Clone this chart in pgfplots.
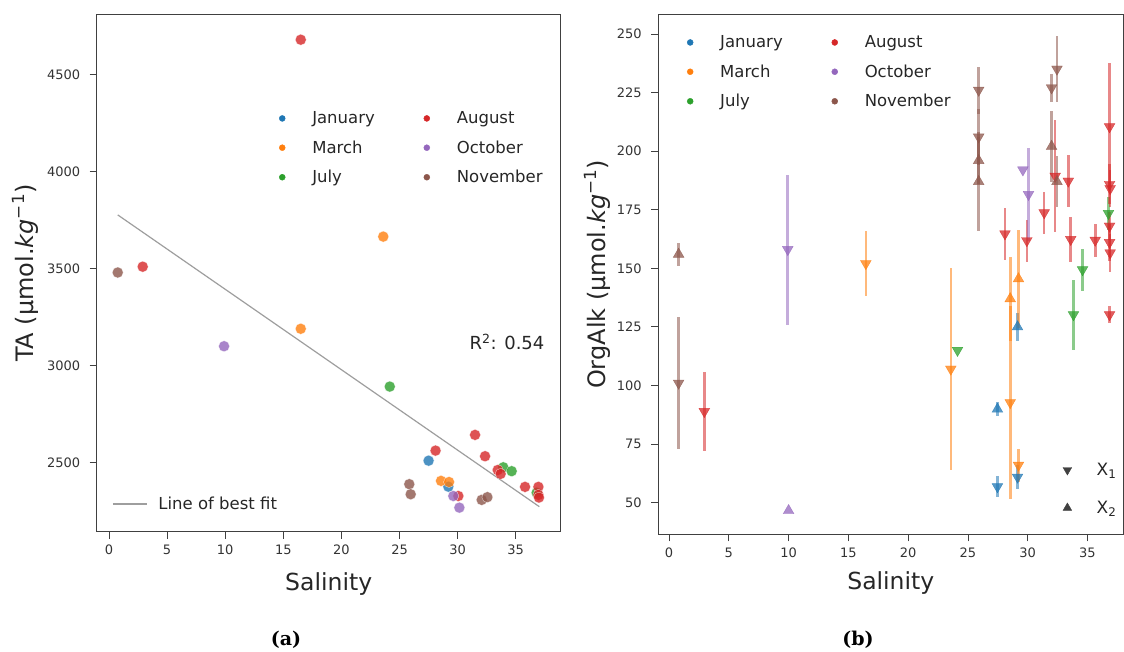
\documentclass[border=0pt]{standalone}
\usepackage{fontspec}
\setmainfont{DejaVu Sans}
\newfontfamily\capfont{DejaVu Serif}
\usepackage{pgfplots}
\pgfplotsset{compat=1.18}
\usepackage{pgfplotstable}

\definecolor{tabblue}{HTML}{1F77B4}
\definecolor{taborange}{HTML}{FF7F0E}
\definecolor{tabgreen}{HTML}{2CA02C}
\definecolor{tabred}{HTML}{D62728}
\definecolor{tabpurple}{HTML}{9467BD}
\definecolor{tabbrown}{HTML}{8C564B}

% ---------- Panel (a): TA vs salinity ----------
\pgfplotstableread{
x y
27.5 2510
29.2 2376
}\TAjan
\pgfplotstableread{
x y
16.5 3190
23.6 3665
28.57 2406
29.26 2400
}\TAmar
\pgfplotstableread{
x y
24.16 2892
33.93 2476
34.65 2456
36.8 2345
}\TAjul
\pgfplotstableread{
x y
16.5 4680
2.9 3510
31.5 2643
28.1 2562
32.36 2533
33.45 2462
33.7 2442
35.8 2375
36.95 2375
36.95 2334
37.0 2320
30.06 2328
}\TAaug
\pgfplotstableread{
x y
9.9 3100
29.63 2328
30.15 2268
}\TAoct
\pgfplotstableread{
x y
0.75 3480
25.84 2389
25.96 2337
32.07 2308
32.56 2322
}\TAnov
\pgfplotstableread{
x y
0.75 3777
37.03 2273
}\TAfit

% ---------- Panel (b): OrgAlk vs salinity ----------
\pgfplotstableread{
x y e
27.47 56.8 4.5
29.15 60.9 5
}\JanD
\pgfplotstableread{
x y e
27.47 89.9 3
29.15 125 6
}\JanU
\pgfplotstableread{
x y e
16.46 152 14
23.57 107 43
28.54 92.7 41
29.23 66 7
}\MarD
\pgfplotstableread{
x y e
28.54 137 18
29.23 145.5 21
}\MarU
\pgfplotstableread{
x y e
24.13 115 0
33.83 130.2 15
34.59 149.4 9
36.76 173.4 7
}\JulD
\pgfplotstableread{
x y e
2.95 88.9 17
28.1 164.7 11
29.93 161.8 9
31.38 173.7 9
32.3 189.3 24
33.4 187.2 11
33.6 162.3 9.6
35.65 162 7
36.85 210.4 27
36.85 185.8 8.5
36.9 184 8
36.85 168 6
36.85 161 8
36.9 156.6 8
36.85 130.2 3.5
}\AugD
\pgfplotstableread{
x y e
9.93 158 32
29.6 192 0
30.07 181.5 20
}\OctD
\pgfplotstableread{
x y e
10.0 46.6 0
}\OctU
\pgfplotstableread{
x y e
0.8 101 28
25.9 226 10
25.9 206 12
32.45 235 14
32.0 227 6
}\NovD
\pgfplotstableread{
x y e
0.8 156 5
25.9 196 10
25.9 187 21
32.0 202 15
32.45 187 11
}\NovU

\pgfplotsset{
  myaxis/.style={
    scale only axis,
    axis line style={black!75, line width=0.8pt},
    tick align=outside,
    tick pos=left,
    major tick length=7pt,
    every tick/.style={black!75, line width=0.8pt},
    ticklabel style={font=\fontsize{13}{15}\selectfont, text=black!80},
    xticklabel style={yshift=-3pt},
    yticklabel style={xshift=-6pt},
    /pgf/number format/assume math mode=true,
    /pgf/number format/1000 sep={},
    xlabel style={font=\fontsize{23.5}{27}\selectfont, text=black!85},
    ylabel style={font=\fontsize{24}{28}\selectfont, text=black!85},
    xtick={0,5,...,35},
  },
  scat/.style={only marks, mark=*, mark size=5.5pt, mark options={draw=white, line width=0.3pt, fill=#1, fill opacity=0.8, draw opacity=0.8}},
  ebar/.style={error bars/y dir=both, error bars/y explicit, error bars/error mark=none,
    error bars/error bar style={line width=2.6pt, color=#1, opacity=0.55}},
  tdown/.style={only marks, mark=triangle*, mark size=6.2pt, color=#1,
    mark options={rotate=180, fill=#1, draw=#1, opacity=0.75}, ebar=#1},
  tup/.style={only marks, mark=triangle*, mark size=6.2pt, color=#1,
    mark options={fill=#1, draw=#1, opacity=0.75}, ebar=#1},
  legdot/.style={only marks, mark=*, mark size=3pt, color=#1, mark options={fill=#1, draw=#1}},
  monthlegend/.style={
    legend columns=2,
    legend cell align=left,
    legend style={draw=none, fill=none, inner sep=0pt,
      font=\fontsize{16.5}{19}\selectfont, text=black!85, row sep=11.5pt,
      /tikz/every odd column/.append style={column sep=25pt},
      /tikz/every even column/.append style={column sep=47pt}},
  },
}

\begin{document}
\begin{tikzpicture}
\useasboundingbox (0pt,0pt) rectangle (1124pt,652pt);

% ================= Panel (a) =================
\begin{axis}[myaxis,
  at={(96.7pt,120.3pt)}, anchor=south west,
  width=464pt, height=517pt,
  xmin=-1.06, xmax=38.87, ymin=2144, ymax=4809,
  ytick={2500,3000,3500,4000,4500},
  xlabel={Salinity},
  ylabel={TA (µmol.\textit{kg}\textsuperscript{−1})},
  xlabel style={at={(axis description cs:0.5,-0.113)}, anchor=base},
  ylabel style={at={(axis description cs:-0.1545,0.5)}, anchor=center},
  legend style={at={(axis description cs:0.033,0.0536)}, anchor=west,
    draw=none, fill=none, inner sep=0pt, font=\fontsize{16.5}{19}\selectfont, text=black!85,
    /tikz/every odd column/.append style={column sep=9pt}},
  legend image code/.code={\draw[#1] (0pt,0pt) -- (34pt,0pt);},
]
\addplot[color=black!38, line width=1.2pt] table[x=x,y=y]{\TAfit};
\addlegendentry{Line of best fit}
\addplot[scat=tabblue, forget plot] table[x=x,y=y]{\TAjan};
\addplot[scat=taborange, forget plot] table[x=x,y=y]{\TAmar};
\addplot[scat=tabgreen, forget plot] table[x=x,y=y]{\TAjul};
\addplot[scat=tabred, forget plot] table[x=x,y=y]{\TAaug};
\addplot[scat=tabpurple, forget plot] table[x=x,y=y]{\TAoct};
\addplot[scat=tabbrown, forget plot] table[x=x,y=y]{\TAnov};
\node[anchor=center, font=\fontsize{18}{21}\selectfont, text=black!85] at (axis cs:34.25,3122) {R\textsuperscript{2}: 0.54};
\end{axis}

\begin{axis}[
  at={(96.7pt,120.3pt)}, anchor=south west, scale only axis,
  width=464pt, height=517pt, hide axis,
  xmin=0, xmax=1, ymin=0, ymax=1,
  monthlegend,
  legend style={at={(axis description cs:0.393,0.8167)}, anchor=north west},
]
\addlegendimage{legdot=tabblue}\addlegendentry{January}
\addlegendimage{legdot=tabred}\addlegendentry{August}
\addlegendimage{legdot=taborange}\addlegendentry{March}
\addlegendimage{legdot=tabpurple}\addlegendentry{October}
\addlegendimage{legdot=tabgreen}\addlegendentry{July}
\addlegendimage{legdot=tabbrown}\addlegendentry{November}
\end{axis}

% ================= Panel (b) =================
\begin{axis}[myaxis,
  at={(658.3pt,117.7pt)}, anchor=south west,
  width=465pt, height=519.6pt,
  xmin=-0.9, xmax=38.0, ymin=36.5, ymax=258.2,
  ytick={50,75,...,250},
  xlabel={Salinity},
  ylabel={OrgAlk (µmol.\textit{kg}\textsuperscript{−1})},
  xlabel style={at={(axis description cs:0.5,-0.107)}, anchor=base},
  ylabel style={at={(axis description cs:-0.132,0.5)}, anchor=center},
  monthlegend,
  legend style={at={(axis description cs:0.0617,0.9638)}, anchor=north west},
]
\addlegendimage{legdot=tabblue}\addlegendentry{January}
\addlegendimage{legdot=tabred}\addlegendentry{August}
\addlegendimage{legdot=taborange}\addlegendentry{March}
\addlegendimage{legdot=tabpurple}\addlegendentry{October}
\addlegendimage{legdot=tabgreen}\addlegendentry{July}
\addlegendimage{legdot=tabbrown}\addlegendentry{November}
\addplot[forget plot, tdown=tabblue] table[x=x,y=y,y error=e]{\JanD};
\addplot[forget plot, tup=tabblue] table[x=x,y=y,y error=e]{\JanU};
\addplot[forget plot, tdown=taborange] table[x=x,y=y,y error=e]{\MarD};
\addplot[forget plot, tup=taborange] table[x=x,y=y,y error=e]{\MarU};
\addplot[forget plot, tdown=tabgreen] table[x=x,y=y,y error=e]{\JulD};
\addplot[forget plot, tdown=tabred] table[x=x,y=y,y error=e]{\AugD};
\addplot[forget plot, tdown=tabpurple] table[x=x,y=y,y error=e]{\OctD};
\addplot[forget plot, tup=tabpurple] table[x=x,y=y,y error=e]{\OctU};
\addplot[forget plot, tdown=tabbrown] table[x=x,y=y,y error=e]{\NovD};
\addplot[forget plot, tup=tabbrown] table[x=x,y=y,y error=e]{\NovU};
\end{axis}

\begin{axis}[
  at={(658.3pt,117.7pt)}, anchor=south west, scale only axis,
  width=465pt, height=519.6pt, hide axis,
  xmin=0, xmax=1, ymin=0, ymax=1,
  legend cell align=left,
  legend style={at={(axis description cs:0.870,0.0872)}, anchor=west,
    draw=none, fill=none, inner sep=0pt, row sep=20pt,
    font=\fontsize{17}{20}\selectfont, text=black!85,
    /tikz/every odd column/.append style={column sep=23pt}},
]
\addlegendimage{only marks, mark=triangle*, mark size=5pt, color=black!75, mark options={rotate=180}}
\addlegendentry{X\textsubscript{1}}
\addlegendimage{only marks, mark=triangle*, mark size=5pt, color=black!75}
\addlegendentry{X\textsubscript{2}}
\end{axis}

\node[font=\capfont\bfseries\fontsize{19}{22}\selectfont] at (286pt,12pt) {(a)};
\node[font=\capfont\bfseries\fontsize{19}{22}\selectfont] at (858pt,12pt) {(b)};
\end{tikzpicture}
\end{document}
